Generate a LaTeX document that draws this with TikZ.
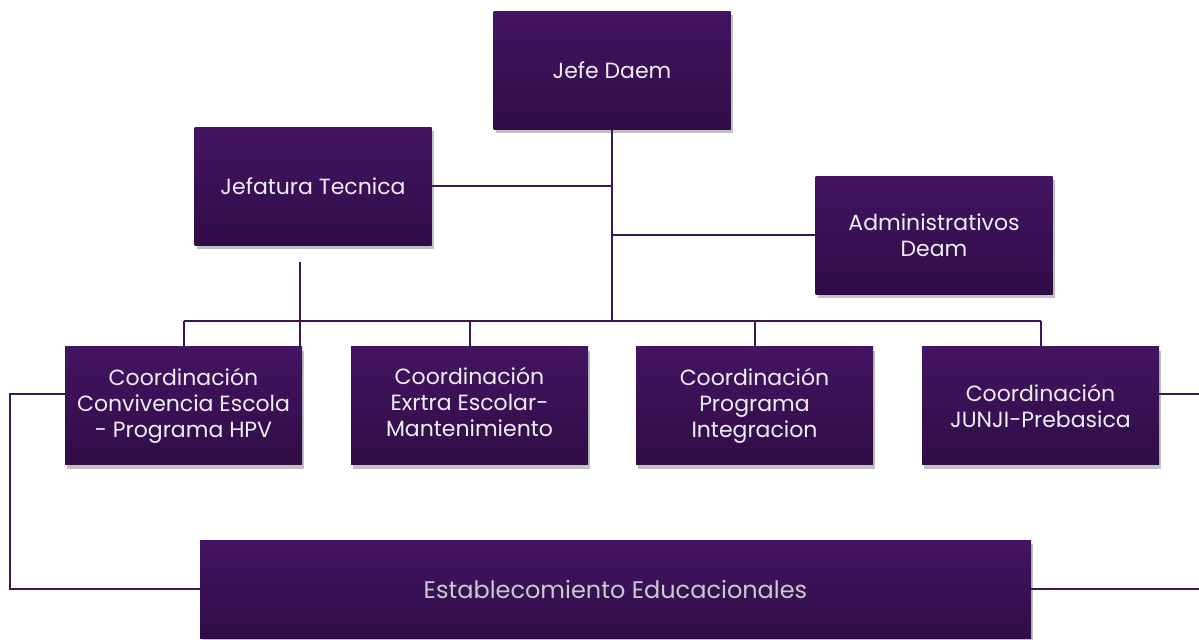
\documentclass[tikz,border=0pt]{standalone}
\usepackage{fontspec}
\setmainfont{Poppins}
\usepackage{tikz}
\usetikzlibrary{shadows,backgrounds}

\definecolor{boxtop}{HTML}{431462}
\definecolor{boxbot}{HTML}{300D47}
\definecolor{linecol}{HTML}{3A1652}
\definecolor{txtcol}{HTML}{EEEEF2}

\tikzset{
	orgbox/.style={rectangle, top color=boxtop, bottom color=boxbot, draw=none,
		minimum width=177.75pt, minimum height=88.5pt, align=center,
		text=txtcol, font=\fontsize{16.5}{19.5}\selectfont, inner sep=0pt,
		drop shadow={shadow xshift=1.5pt, shadow yshift=-3pt, opacity=.35, fill=black!70}},
	estbox/.style={orgbox, minimum width=623.25pt, minimum height=73.5pt,
		text=txtcol!85!black, font=\fontsize{18}{20}\selectfont},
	link/.style={draw=linecol, line width=1.5pt}
}

\begin{document}
\begin{tikzpicture}[x=0.75pt, y=-0.75pt]
		\clip (0,0) rectangle (1199,639);
		\node[orgbox] (jefe) at (612,70) {Jefe Daem};
		\node[orgbox] (jtec) at (313,186) {Jefatura Tecnica};
		\node[orgbox] (adm) at (934,235) {Administrativos\\Deam};
		\node[orgbox] (c1) at (183.5,405.5) {Coordinación\\Convivencia Escola\\- Programa HPV};
		\node[orgbox] (c2) at (469.5,405.5) {Coordinación\\Exrtra Escolar-\\Mantenimiento\strut};
		\node[orgbox] (c3) at (754.5,405.5) {Coordinación\\Programa\\Integracion};
		\node[orgbox] (c4) at (1040.5,405.5) {Coordinación\\JUNJI-Prebasica};
		\node[estbox] (est) at (615.5,589) {Establecomiento Educacionales};
		\coordinate (bus) at (612,321);
		\coordinate (jtlow) at (300,262);
		\coordinate (lft) at (10,394);
		\coordinate (rgt) at (1199,394);
		\coordinate (rgtest) at (1199,589);
		\begin{scope}[on background layer]
			\draw[link] (jefe) -- (bus);
			\draw[link] (jtec.east) -- (jtec.east -| jefe);
			\draw[link] (adm.west -| jefe) -- (adm.west);
			\draw[link] (c1.north |- bus) -- (c4.north |- bus);
			\foreach \c in {c1, c2, c3, c4}{
				\draw[link] (\c.north |- bus) -- (\c.north);
			}
			\draw[link] (jtlow) -- (jtlow |- c1.north);
			\draw[link] ([xshift=20pt]c1.west |- lft) -- (lft) |- ([xshift=36pt]est.west);
			\draw[link] ([xshift=-10pt]c4.east |- rgt) -- (rgt);
			\draw[link] ([xshift=-20pt]est.east) -- (rgtest);
		\end{scope}
		\end{tikzpicture}
\end{document}
